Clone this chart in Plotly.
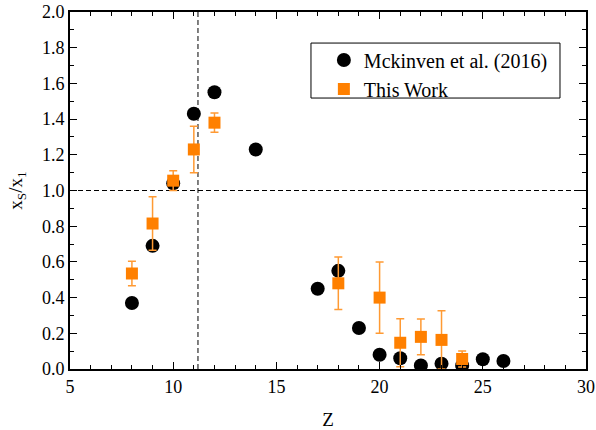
import plotly.graph_objects as go

# Mckinven et al. (2016)
z_mck = [8, 9, 10, 11, 12, 14, 17, 18, 19, 20, 21, 22, 23, 24, 25, 26]
r_mck = [0.37, 0.69, 1.04, 1.43, 1.55, 1.23, 0.45, 0.55, 0.23, 0.08, 0.06, 0.02, 0.03, 0.02, 0.055, 0.045]

# This Work
z_tw = [8, 9, 10, 11, 12, 18, 20, 21, 22, 23, 24]
r_tw = [0.535, 0.815, 1.055, 1.23, 1.38, 0.48, 0.40, 0.147, 0.18, 0.163, 0.056]
e_tw = [0.068, 0.15, 0.055, 0.13, 0.054, 0.147, 0.20, 0.135, 0.10, 0.163, 0.045]

z_ref = 11.2
r_ref = 1.0

FONT = "'Liberation Serif', 'Times New Roman', Times, serif"
ORANGE = "#FF8000"

fig = go.Figure()
fig.add_trace(go.Scatter(
    x=z_mck, y=r_mck, mode="markers", name="Mckinven et al. (2016)",
    marker=dict(symbol="circle", size=14, color="black"),
))
fig.add_trace(go.Scatter(
    x=z_tw, y=r_tw, mode="markers", name="This Work",
    marker=dict(symbol="square", size=12, color=ORANGE),
    error_y=dict(type="data", array=e_tw, visible=True, color="#FF9A33", thickness=1.5, width=4),
))

fig.add_shape(type="line", xref="x", yref="paper", x0=z_ref, x1=z_ref, y0=0, y1=1,
              line=dict(color="black", width=1, dash="5px,3px"), layer="below")
fig.add_shape(type="line", xref="paper", yref="y", x0=0, x1=1, y0=r_ref, y1=r_ref,
              line=dict(color="black", width=1, dash="5px,3px"), layer="below")
# legend frame
fig.add_shape(type="rect", xref="paper", yref="paper", x0=0.467, x1=0.9496, y0=0.759, y1=0.913,
              line=dict(color="black", width=1), fillcolor="rgba(0,0,0,0)", layer="above")

axis_common = dict(
    showgrid=False, zeroline=False, showline=True, linecolor="black", linewidth=2,
    mirror="ticks", ticks="inside", ticklen=7, tickwidth=1.2, tickcolor="black",
    tickfont=dict(family=FONT, size=18, color="black"), automargin=False,
    ticklabeloverflow="allow",
)

fig.update_xaxes(range=[5, 30], dtick=5, tick0=5,
                 minor=dict(dtick=1, ticks="inside", ticklen=4, tickcolor="black", tickwidth=1),
                 title=dict(text="Z", font=dict(family=FONT, size=19, color="black"), standoff=18),
                 **axis_common)
fig.update_yaxes(range=[0, 2.0], dtick=0.2, tick0=0, tickformat=".1f",
                 minor=dict(dtick=0.1, ticks="inside", ticklen=4, tickcolor="black", tickwidth=1),
                 title=dict(text="x<sub>S</sub>/x<sub>1</sub>", font=dict(family=FONT, size=19, color="black"), standoff=14),
                 **axis_common)

fig.update_layout(
    width=596, height=430,
    margin=dict(l=70, r=10, t=12, b=61),
    plot_bgcolor="white", paper_bgcolor="white",
    font=dict(family=FONT, size=18, color="black"),
    showlegend=True,
    legend=dict(x=0.492, y=0.92, xanchor="left", yanchor="top",
                borderwidth=0, bgcolor="rgba(0,0,0,0)",
                font=dict(family=FONT, size=20, color="black"),
                tracegroupgap=0, itemsizing="trace"),
)

fig.write_html("out.html", config={"displayModeBar": False},
               post_script="document.body.style.margin='0';")
